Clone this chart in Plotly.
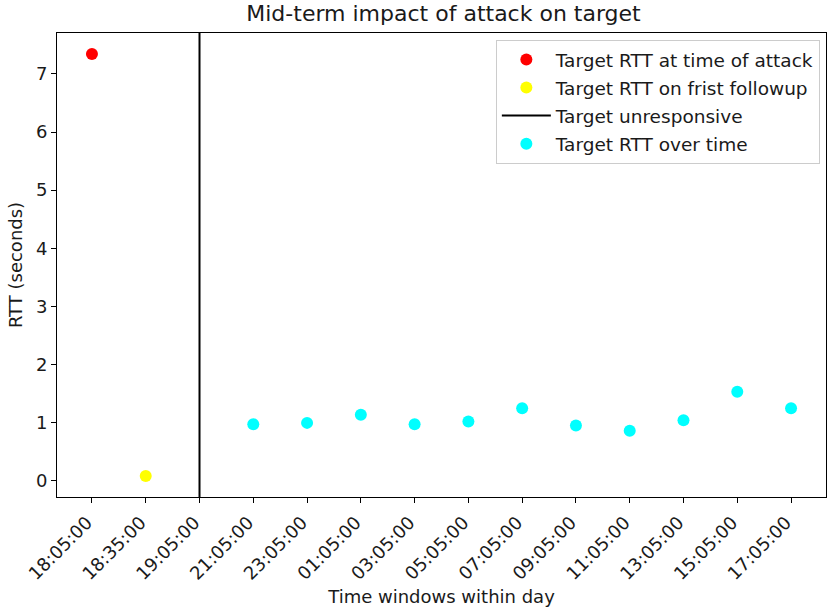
import plotly.graph_objects as go

categories = ["18:05:00", "18:35:00", "19:05:00", "21:05:00", "23:05:00", "01:05:00",
              "03:05:00", "05:05:00", "07:05:00", "09:05:00", "11:05:00", "13:05:00",
              "15:05:00", "17:05:00"]
attack_time = ["18:05:00"]
attack_rtt = [7.34]
followup_time = ["18:35:00"]
followup_rtt = [0.086]
unresponsive_time = "19:05:00"
over_time = ["21:05:00", "23:05:00", "01:05:00", "03:05:00", "05:05:00", "07:05:00",
             "09:05:00", "11:05:00", "13:05:00", "15:05:00", "17:05:00"]
over_rtt = [0.976, 0.998, 1.136, 0.976, 1.022, 1.251, 0.954, 0.861, 1.045, 1.532, 1.251]

font = "DejaVu Sans"
txt = "#1a1a1a"
fig = go.Figure()
fig.add_trace(go.Scatter(x=attack_time, y=attack_rtt, mode="markers",
                         marker=dict(color="red", size=12),
                         name="Target RTT at time of attack", legendgroup="a"))
fig.add_trace(go.Scatter(x=followup_time, y=followup_rtt, mode="markers",
                         marker=dict(color="yellow", size=12),
                         name="Target RTT on frist followup", legendgroup="b"))
fig.add_trace(go.Scatter(x=[None], y=[None], mode="lines",
                         line=dict(color="black", width=2),
                         name="Target unresponsive", legendgroup="c"))
fig.add_trace(go.Scatter(x=over_time, y=over_rtt, mode="markers",
                         marker=dict(color="cyan", size=12),
                         name="Target RTT over time", legendgroup="d"))

fig.add_vline(x=categories.index(unresponsive_time), line=dict(color="black", width=2))

allv = attack_rtt + followup_rtt + over_rtt
lo, hi = min(allv), max(allv)
pad = (hi - lo) * 0.05
n = len(categories)

fig.update_layout(
    width=829, height=611,
    margin=dict(l=57, r=3, t=33, b=114),
    paper_bgcolor="white", plot_bgcolor="white",
    font=dict(family=font, size=18, color=txt),
    title=dict(text="Mid-term impact of attack on target", x=0.535, xanchor="center",
               y=0.978, yanchor="middle", font=dict(size=22, color=txt)),
    showlegend=True,
    legend=dict(x=0.992, y=0.985, xanchor="right", yanchor="top",
                bgcolor="rgba(255,255,255,0.8)", bordercolor="#cccccc", borderwidth=1,
                font=dict(size=18.5, color=txt), itemwidth=49, tracegroupgap=1),
    xaxis=dict(type="category", categoryorder="array", categoryarray=categories,
               range=[-0.65, n - 1 + 0.65], tickangle=-45, automargin=False,
               ticklabelshift=-5, ticklabelstandoff=2,
               showline=True, linecolor="black", linewidth=1, mirror=True,
               ticks="outside", ticklen=5, tickcolor="black", showgrid=False, zeroline=False,
               tickfont=dict(size=18, color=txt),
               title=dict(text="Time windows within day", font=dict(size=18, color=txt),
                          standoff=7)),
    yaxis=dict(range=[lo - pad, hi + pad], dtick=1, automargin=False,
               showline=True, linecolor="black", linewidth=1, mirror=True,
               ticks="outside", ticklen=5, tickcolor="black", showgrid=False, zeroline=False,
               tickfont=dict(size=18, color=txt),
               title=dict(text="RTT (seconds)", font=dict(size=18, color=txt),
                          standoff=8)),
)

fig.write_html("out.html")
